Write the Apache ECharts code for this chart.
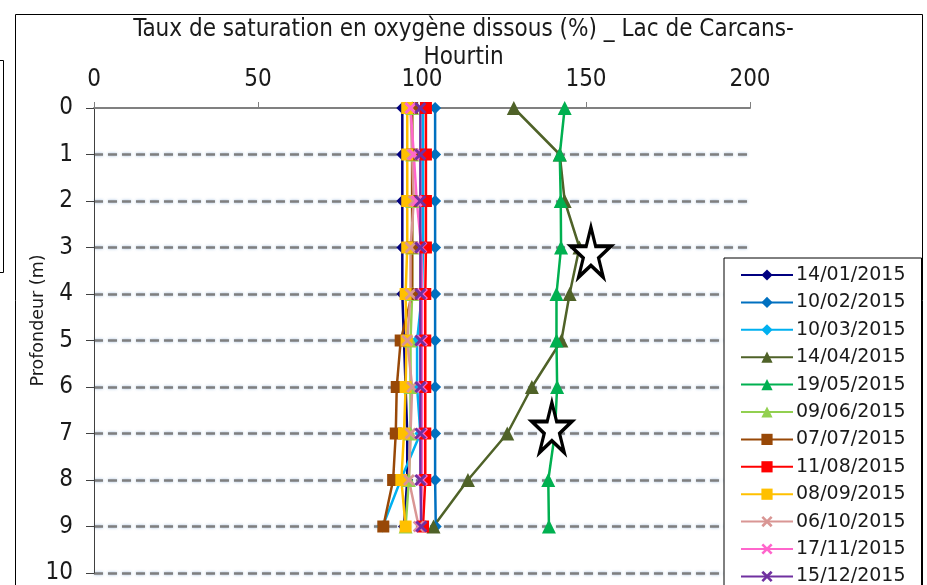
<!DOCTYPE html>
<html>
<head>
<meta charset="utf-8">
<title>Taux de saturation en oxygène dissous</title>
<script src="https://cdn.jsdelivr.net/npm/echarts@6/dist/echarts.min.js"></script>
<style>
  html, body { margin: 0; padding: 0; background: #fff; }
  #chart { width: 927px; height: 585px; }
</style>
</head>
<body>
<div id="chart"></div>
<script>
// profondeurs (m)
const depths = [0, 1, 2, 3, 4, 5, 6, 7, 8, 9]

// dates de prélèvement
const dates = ['14/01/2015', '10/02/2015', '10/03/2015', '14/04/2015', '19/05/2015', '09/06/2015',
  '07/07/2015', '11/08/2015', '08/09/2015', '06/10/2015', '17/11/2015', '15/12/2015']

// saturation (%) par date, de 0 à 9 m
const jan14 = [94, 94, 94, 94, 94, 94.5, 95, 95.5, 95.5, 94.5]
const feb10 = [104, 104, 104, 104, 104, 104, 104, 104, 104, 104.2]
const mar10 = [100.3, 100.3, 100.3, 100.3, 100, 98.5, 98.5, 99.5, 93.5, 88]
const apr14 = [128, 142, 143.5, 148, 145, 142.5, 133.5, 126, 114, 103.5]
const may19 = [143.5, 142, 142.3, 142.4, 141, 141, 141.2, 140.5, 138.5, 138.7]
const jun09 = [97, 97, 97, 97, 97, 96.5, 96.5, 96.5, 96, 95]
const jul07 = [97, 97, 97, 97, 97, 93.5, 92.3, 92, 91.2, 88.2]
const aug11 = [101.2, 101.2, 101.2, 101.2, 101, 101, 101, 101, 101, 100.3]
const sep08 = [95.5, 95.5, 95.5, 95.5, 95, 95.3, 95, 94.5, 93.7, 95]
const oct06 = [96.5, 97, 97.5, 96.5, 96.5, 95.5, 97, 96.5, 96, 99]
const nov17 = [96.5, 97.5, 98.4, 99.8, 100, 100, 100, 100, 100, 99.6]
const dec15 = [99.5, 99.5, 99.5, 99.5, 99.5, 99.5, 99.5, 99.5, 99.5, 99.8]

// étoiles d'annotation [saturation, profondeur]
const stars = [[151.5, 3.1], [139.6, 6.87]]

const xTicks = [0, 50, 100, 150, 200]

const values = [jan14, feb10, mar10, apr14, may19, jun09, jul07, aug11, sep08, oct06, nov17, dec15]
const colors = ['#000080', '#0070C0', '#00B0F0', '#4F6228', '#00B050', '#92D050',
  '#984807', '#FF0000', '#FFC000', '#D99694', '#FF66CC', '#7030A0']

const crossPath = 'path://M0,2 L2,0 L6,4 L10,0 L12,2 L8,6 L12,10 L10,12 L6,8 L2,12 L0,10 L4,6 Z'
// étoile à cinq branches (boîte 40 x 50)
const starPath = 'path://M20,0 L24.72,19.1 L40,19.1 L27.63,30.9 L32.37,50 L20,38.2 L7.63,50 L12.37,30.9 L0,19.1 L15.28,19.1 Z'
const markers = [
  ['diamond', 12], ['diamond', 12], ['diamond', 12],
  ['triangle', 14], ['triangle', 14], ['triangle', 14],
  ['rect', 12], ['rect', 12], ['rect', 12],
  [crossPath, 12], [crossPath, 12], [crossPath, 12]
]

const narrowFont = "'Liberation Sans Narrow', 'DejaVu Sans Condensed', 'Liberation Sans', sans-serif"

const chart = echarts.init(document.getElementById('chart'))

const series = dates.map((name, i) => ({
  name: name,
  type: 'line',
  data: values[i].map((v, k) => [v, depths[k]]),
  symbol: markers[i][0],
  symbolSize: markers[i][1],
  showAllSymbol: true,
  color: colors[i],
  lineStyle: { width: 2.5, color: colors[i] },
  itemStyle: { color: colors[i] },
  emphasis: { disabled: true },
  animation: false
}))

// étoiles blanches par-dessus les courbes
series.push({
  name: 'stars',
  type: 'scatter',
  data: stars,
  symbol: starPath,
  symbolSize: [40, 50],
  itemStyle: { color: '#fff', borderColor: '#000', borderWidth: 3.5, opacity: 1 },
  emphasis: { disabled: true },
  z: 10,
  animation: false
})

const option = {
  backgroundColor: '#fff',
  animation: false,
  title: {
    text: 'Taux de saturation en oxygène dissous (%) _ Lac de Carcans-\nHourtin',
    left: 'center',
    top: 11,
    textStyle: {
      fontFamily: narrowFont,
      fontSize: 24,
      fontWeight: 'normal',
      lineHeight: 28,
      color: '#1a1a1a'
    }
  },
  legend: {
    data: dates,
    orient: 'vertical',
    left: 724,
    top: 258,
    height: 420,
    padding: [7, 16, 7, 16],
    itemWidth: 52,
    itemHeight: 14,
    itemGap: 7.4,
    borderColor: '#000',
    borderWidth: 1,
    backgroundColor: '#fff',
    textStyle: {
      fontFamily: 'DejaVu Sans',
      fontSize: 19,
      lineHeight: 20,
      color: '#1a1a1a',
      padding: [0, 0, 0, -2]
    }
  },
  grid: {
    left: 94,
    right: 177,
    top: 108,
    bottom: 12
  },
  xAxis: {
    type: 'value',
    position: 'top',
    min: xTicks[0],
    max: xTicks[xTicks.length - 1],
    interval: 50,
    axisLine: { lineStyle: { color: '#808080', width: 2 } },
    axisTick: { show: true, inside: false, length: 6, lineStyle: { color: '#808080', width: 1 } },
    axisLabel: {
      margin: 16,
      fontFamily: narrowFont,
      fontSize: 24,
      color: '#1a1a1a'
    },
    splitLine: { show: false }
  },
  yAxis: {
    type: 'value',
    inverse: true,
    min: 0,
    max: 10,
    interval: 1,
    name: 'Profondeur (m)',
    nameLocation: 'middle',
    nameGap: 47,
    nameRotate: 90,
    nameMoveOverlap: false,
    nameTextStyle: {
      fontFamily: 'DejaVu Sans',
      fontSize: 17.5,
      color: '#1a1a1a',
      padding: [0, 0, 0, 40]
    },
    axisLine: { show: true, lineStyle: { color: '#404040', width: 1 } },
    axisTick: { show: true, length: 8, lineStyle: { color: '#404040' } },
    axisLabel: {
      margin: 21,
      fontFamily: narrowFont,
      fontSize: 24,
      color: '#1a1a1a'
    },
    splitLine: {
      show: true,
      showMinLine: false,
      lineStyle: {
        type: [9, 5],
        width: 2.5,
        color: '#7f7f7f',
        shadowColor: 'rgba(79, 129, 189, 0.55)',
        shadowBlur: 3
      }
    }
  },
  graphic: [
    {
      type: 'rect',
      silent: true,
      z: 100,
      shape: { x: 15.5, y: 14.5, width: 907, height: 600 },
      style: { fill: 'none', stroke: '#000', lineWidth: 1 }
    },
    {
      type: 'polyline',
      silent: true,
      z: 100,
      shape: { points: [[0, 60.5], [3.5, 60.5], [3.5, 272.5], [0, 272.5]] },
      style: { fill: 'none', stroke: '#000', lineWidth: 1 }
    }
  ],
  series: series
}

chart.setOption(option)
</script>
</body>
</html>
